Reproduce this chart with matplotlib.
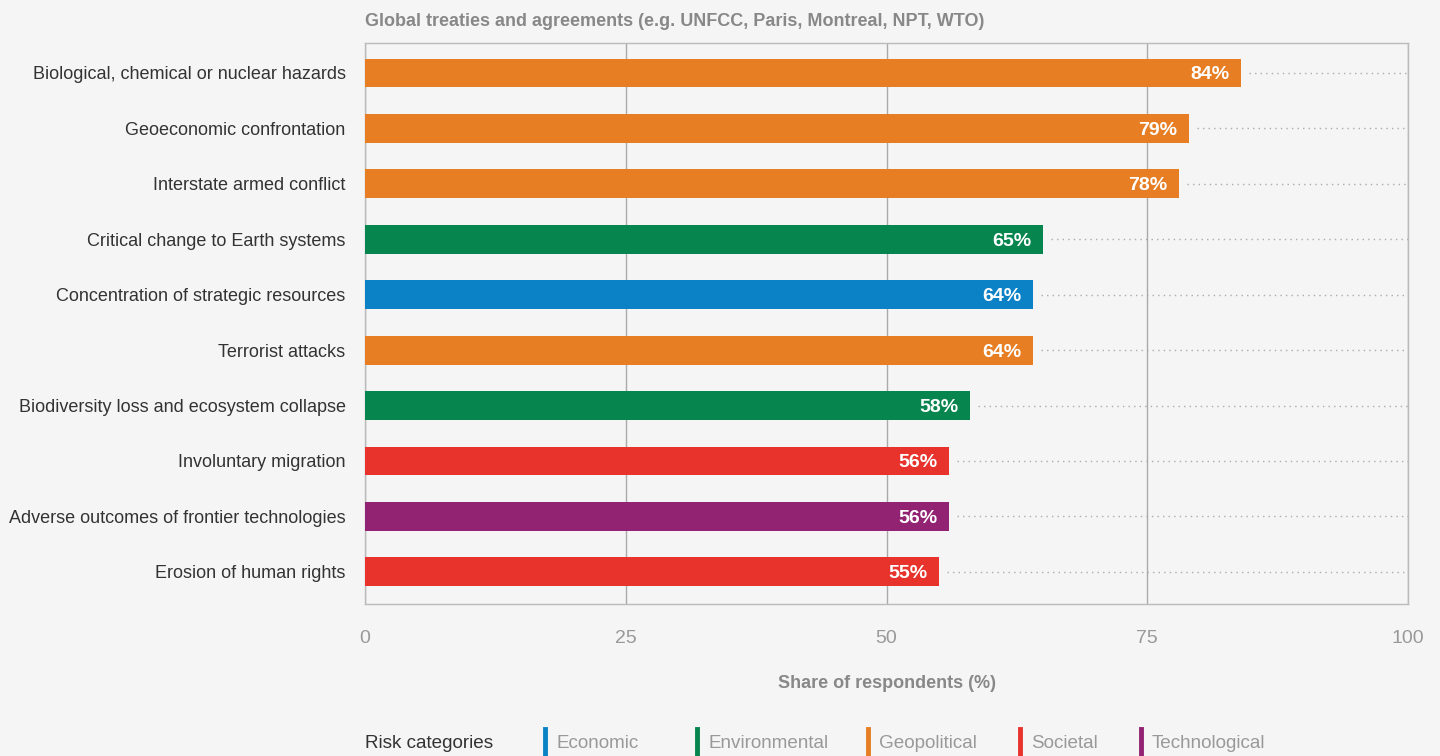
import matplotlib.pyplot as plt

plt.rcParams['font.family'] = ['Liberation Sans', 'DejaVu Sans']

risks = [
    "Biological, chemical or nuclear hazards",
    "Geoeconomic confrontation",
    "Interstate armed conflict",
    "Critical change to Earth systems",
    "Concentration of strategic resources",
    "Terrorist attacks",
    "Biodiversity loss and ecosystem collapse",
    "Involuntary migration",
    "Adverse outcomes of frontier technologies",
    "Erosion of human rights",
]
shares = [84, 79, 78, 65, 64, 64, 58, 56, 56, 55]
categories = ["Geopolitical", "Geopolitical", "Geopolitical", "Environmental", "Economic",
              "Geopolitical", "Environmental", "Societal", "Technological", "Societal"]

legend_order = ["Economic", "Environmental", "Geopolitical", "Societal", "Technological"]
cat_colors = {
    "Economic": "#0C82C6",
    "Environmental": "#06854F",
    "Geopolitical": "#E77E23",
    "Societal": "#E7332C",
    "Technological": "#922272",
}

bg = "#F5F5F5"
fig = plt.figure(figsize=(14.4, 7.56), dpi=100, facecolor=bg)
ax = fig.add_axes([0.2535, 0.2011, 0.7243, 0.742])
ax.set_facecolor(bg)

ypos = list(range(len(risks)))
colors = [cat_colors[c] for c in categories]
ax.barh(ypos, shares, height=0.52, color=colors, zorder=3)

for y, v in zip(ypos, shares):
    ax.plot([v + 0.8, 100], [y, y], color="#AAAAAA", lw=1, ls=(0, (1, 3)), zorder=2)
    ax.text(v - 1.1, y, f"{v}%", color="white", fontsize=14, fontweight="bold",
            ha="right", va="center_baseline", zorder=4)

ax.set_xlim(0, 100)
ax.set_ylim(len(risks) - 0.42, -0.54)
ax.set_xticks([0, 25, 50, 75, 100])
ax.tick_params(axis="x", length=0, pad=19, labelsize=14, labelcolor="#999999")
ax.tick_params(axis="y", length=0, pad=14, labelsize=13, labelcolor="#333333")
ax.set_yticks(ypos)
ax.set_yticklabels(risks)
ax.grid(axis="x", color="#AAAAAA", lw=1, zorder=1)
for s in ax.spines.values():
    s.set_color("#BBBBBB")
    s.set_linewidth(1)

ax.set_xlabel("Share of respondents (%)", fontsize=13, fontweight="bold",
              color="#888888", labelpad=20)

fig.text(365 / 1440, 1 - 21 / 756, "Global treaties and agreements (e.g. UNFCC, Paris, Montreal, NPT, WTO)",
         fontsize=13, fontweight="bold", color="#888888", ha="left", va="center")

# legend
ly = 1 - 743 / 756
fig.text(365 / 1440, ly, "Risk categories", fontsize=13.6, color="#333333", ha="left", va="center")
leg_x = [545, 697, 868, 1020, 1141]
for x, name in zip(leg_x, legend_order):
    fig.add_artist(plt.Line2D([x / 1440, x / 1440], [ly - 0.018, ly + 0.018],
                              color=cat_colors[name], lw=3.5, transform=fig.transFigure))
    fig.text((x + 11) / 1440, ly, name, fontsize=13.6, color="#999999", ha="left", va="center")

fig.savefig("out.png", dpi=100, facecolor=bg)
